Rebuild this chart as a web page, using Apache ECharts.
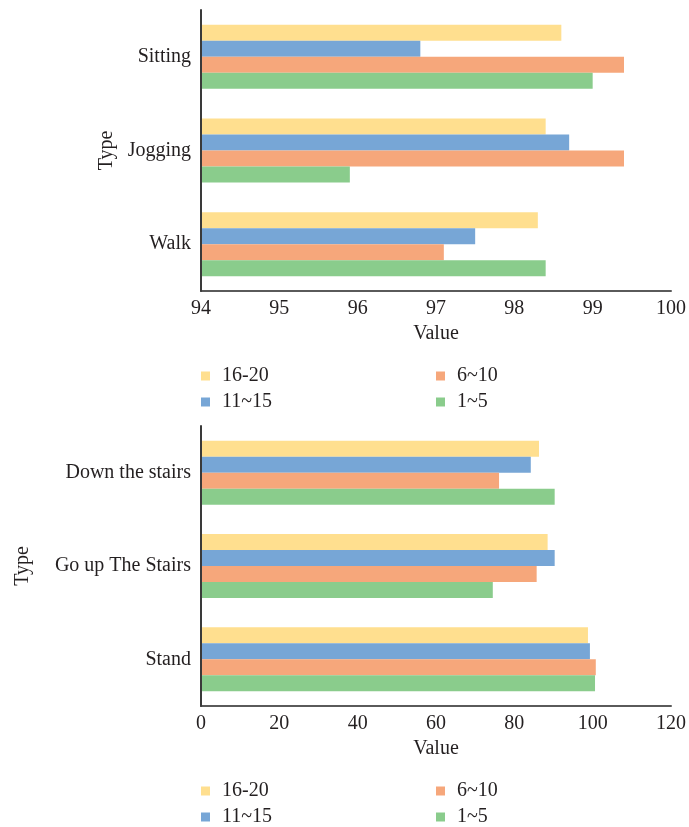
<!DOCTYPE html>
<html>
<head>
<meta charset="utf-8">
<script src="https://cdn.jsdelivr.net/npm/echarts@6/dist/echarts.min.js"></script>
<style>
  html, body { margin: 0; padding: 0; background: #fff; }
  #chart { width: 689px; height: 827px; }
</style>
</head>
<body>
<div id="chart"></div>
<script>
// Activity categories for the two panels
const categoriesTop = ['Sitting', 'Jogging', 'Walk'];
const categoriesBottom = ['Down the stairs', 'Go up The Stairs', 'Stand'];

// Age groups (series names)
const groupNames = ['16-20', '11~15', '6~10', '1~5'];

// Upper panel values (per category: Sitting, Jogging, Walk)
const topAge16to20 = [98.6, 98.4, 98.3];
const topAge11to15 = [96.8, 98.7, 97.5];
const topAge6to10 = [99.4, 99.4, 97.1];
const topAge1to5 = [99.0, 95.9, 98.4];

// Lower panel values (per category: Down the stairs, Go up The Stairs, Stand)
const bottomAge16to20 = [86.3, 88.5, 98.8];
const bottomAge11to15 = [84.2, 90.3, 99.3];
const bottomAge6to10 = [76.1, 85.7, 100.8];
const bottomAge1to5 = [90.3, 74.5, 100.6];

// Value axis ticks
const topTicks = { min: 94, max: 100, interval: 1 };
const bottomTicks = { min: 0, max: 120, interval: 20 };

const colors = ['#FFDF8F', '#77A6D6', '#F6A77B', '#8ACC8C'];
const textColor = '#231f20';
const fontFamily = '"Liberation Serif", "DejaVu Serif", serif';
const fontSize = 20;

const chart = echarts.init(document.getElementById('chart'), null, { renderer: 'canvas' });

function valueAxis(gridIndex, ticks) {
  return {
    type: 'value',
    gridIndex: gridIndex,
    min: ticks.min,
    max: ticks.max,
    interval: ticks.interval,
    name: 'Value',
    nameLocation: 'middle',
    nameGap: 33,
    nameTextStyle: { color: textColor, fontFamily: fontFamily, fontSize: fontSize },
    axisLine: { show: true, lineStyle: { color: '#5a5a5a', width: 2 } },
    axisTick: { show: false },
    splitLine: { show: false },
    axisLabel: { color: textColor, fontFamily: fontFamily, fontSize: fontSize, margin: 8 }
  };
}

function categoryAxis(gridIndex, cats, gap) {
  return {
    type: 'category',
    gridIndex: gridIndex,
    data: cats,
    inverse: true,
    z: 5,
    name: 'Type',
    nameLocation: 'middle',
    nameGap: gap,
    nameTextStyle: { color: textColor, fontFamily: fontFamily, fontSize: fontSize },
    axisLine: { show: true, lineStyle: { color: '#3a3a3a', width: 2 } },
    axisTick: { show: false },
    axisLabel: { color: textColor, fontFamily: fontFamily, fontSize: fontSize, margin: 10 }
  };
}

const topData = [topAge16to20, topAge11to15, topAge6to10, topAge1to5];
const bottomData = [bottomAge16to20, bottomAge11to15, bottomAge6to10, bottomAge1to5];

const series = [];
groupNames.forEach(function (name, i) {
  series.push({
    name: name, type: 'bar', xAxisIndex: 0, yAxisIndex: 0,
    data: topData[i], barWidth: 16, barGap: '0%',
    itemStyle: { color: colors[i] }
  });
});
groupNames.forEach(function (name, i) {
  series.push({
    name: name, type: 'bar', xAxisIndex: 1, yAxisIndex: 1,
    data: bottomData[i], barWidth: 16, barGap: '0%',
    itemStyle: { color: colors[i] }
  });
});

function legend(left, top, names) {
  return {
    orient: 'vertical',
    left: left,
    top: top,
    padding: 0,
    data: names,
    icon: 'rect',
    itemWidth: 9,
    itemHeight: 9,
    itemGap: 6,
    selectedMode: false,
    textStyle: { color: textColor, fontFamily: fontFamily, fontSize: fontSize, padding: [0, 0, 0, 7] }
  };
}

chart.setOption({
  animation: false,
  color: colors,
  grid: [
    { left: 201, top: 10, width: 470, height: 281, containLabel: false },
    { left: 201, top: 426, width: 470, height: 280, containLabel: false }
  ],
  xAxis: [valueAxis(0, topTicks), valueAxis(1, bottomTicks)],
  yAxis: [categoryAxis(0, categoriesTop, 79), categoryAxis(1, categoriesBottom, 168)],
  legend: [
    legend(201, 366, ['16-20', '11~15']),
    legend(436, 366, ['6~10', '1~5']),
    legend(201, 781, ['16-20', '11~15']),
    legend(436, 781, ['6~10', '1~5'])
  ],
  series: series
});
</script>
</body>
</html>
